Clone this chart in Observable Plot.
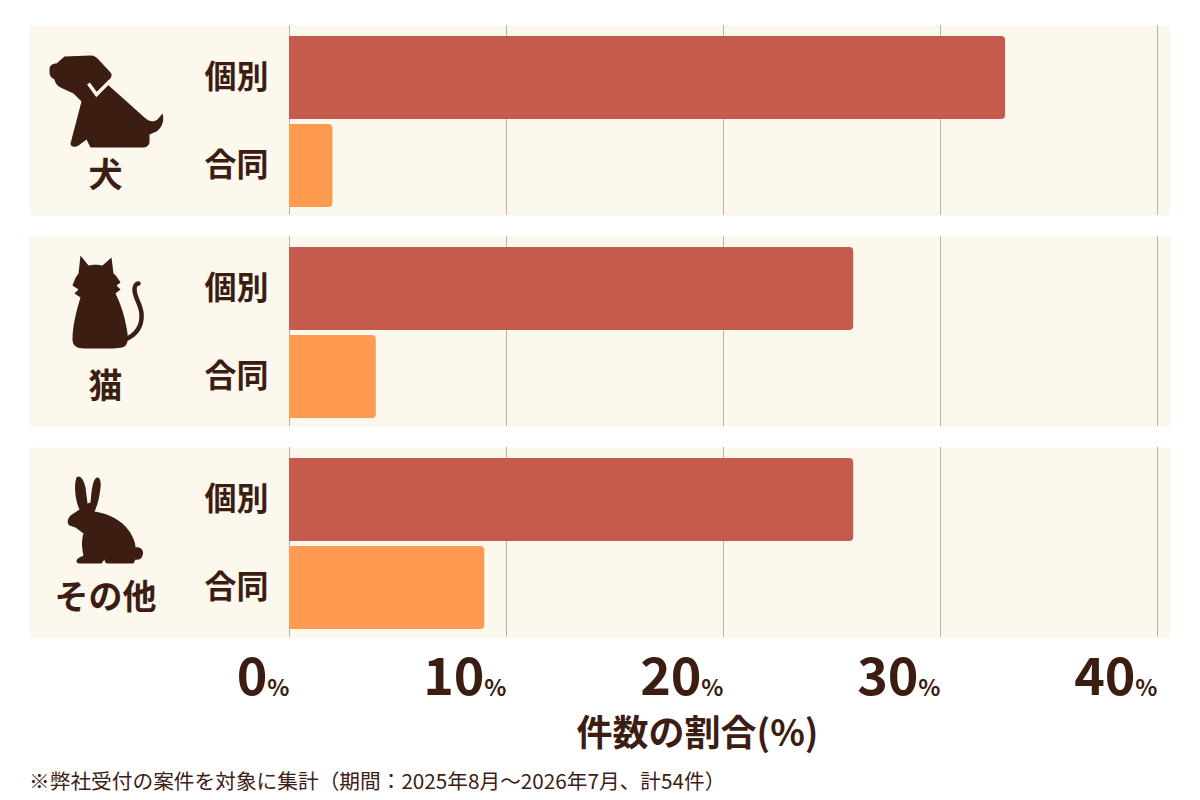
<!DOCTYPE html>
<html>
<head>
<meta charset="utf-8">
<script src="https://cdn.jsdelivr.net/npm/d3@7"></script>
<script src="https://cdn.jsdelivr.net/npm/@observablehq/plot@0.6"></script>
<style>
  html, body { margin: 0; padding: 0; background: #ffffff; }
  #caption {
    font-family: "Noto Sans CJK JP", "Noto Sans", sans-serif;
    font-size: 20.7px; color: #3d2014;
    height: 40px; line-height: 40px; padding-left: 29px;
    white-space: nowrap;
  }
</style>
</head>
<body>
<div id="chart"></div>
<div id="caption"></div>
<script>
// ---- data ----
const groups = ["犬", "猫", "その他"];
const types = ["個別", "合同"];
const dogValues = [33, 2];
const catValues = [26, 4];
const otherValues = [26, 9];
const xTicks = [0, 10, 20, 30, 40];
const xLabel = "件数の割合(%)";
const captionText = "※弊社受付の案件を対象に集計（期間：2025年8月～2026年7月、計54件）";

const brown = "#3b1d12";
const panelFill = "#fcf8ee";
const typeColors = ["#c55b4c", "#fe9b50"];

const valuesByGroup = [dogValues, catValues, otherValues];
const table = [];
groups.forEach((g, i) => types.forEach((t, j) => table.push({group: g, type: t, value: valuesByGroup[i][j]})));

// ---- icons (silhouettes) ----
const dogSvg = `<g transform="translate(8,20)"><path fill="${brown}" d="M1,14 C1,10 4,8 8,8 L16,1 L42,0 C46,0 48,2 50,4 L62,17 C64,19 63,22 61,24 L58,28 L96,62 C100,66 105,67 109,64 L114,58 C116,64 114,72 108,76 L101,79 L101,86 C101,90 98,92 94,92 L42,92 L38,84 L30,90 C27,92 22,92 22,88 L33,46 L25,38 L12,32 C8,30 6,26 6,24 L3,22 C1,20 1,18 1,14 Z"/><polyline points="40,28 48,39 62,25" fill="none" stroke="${panelFill}" stroke-width="3.5"/></g>`;
const catSvg = `<g transform="translate(30,9)"><path fill="${brown}" d="M10,0 L18,10 C22,9 28,9 32,10 L41,2 L43,18 C46,20 48,24 50,27 L46,30 L50,34 L45,38 C50,48 54,60 56,72 C58,82 58,88 54,91 C50,93 42,93 30,93 L14,93 C6,93 2,90 2,84 C2,70 6,55 10,42 L4,38 L8,34 L2,30 C4,24 6,20 8,18 Z"/><path fill="none" stroke="${brown}" stroke-width="4.5" stroke-linecap="round" d="M54,84 C66,80 72,70 71,58 C70,48 64,42 64,34 C64,30 66,28 68,28"/></g>`;
const rabbitSvg = `<g transform="translate(27,18)"><path fill="${brown}" d="M9,2 C12,-1 16,3 18,12 L20,28 L23,27 C24,16 25,6 28,3 C31,0 34,4 33,12 C32,22 30,30 27,36 C40,38 54,44 62,56 C66,62 68,68 68,72 C73,71 77,75 75,80 C74,84 70,85 68,84 L66,88 L40,88 C38,88 37,86 37,84 L34,88 L12,88 C8,88 8,84 12,82 L16,80 C14,72 14,64 16,58 L8,52 L2,50 C-1,48 0,43 3,40 L12,34 C8,26 6,10 9,2 Z"/></g>`;
const wrap = s => "data:image/svg+xml;utf8," + encodeURIComponent(`<svg xmlns="http://www.w3.org/2000/svg" width="130" height="130" viewBox="0 0 130 130">${s}</svg>`);
const iconSrc = {"犬": wrap(dogSvg), "猫": wrap(catSvg), "その他": wrap(rabbitSvg)};

const font = '"Noto Sans CJK JP", "Noto Sans", sans-serif';

const chart = Plot.plot({
  width: 1200,
  height: 760,
  marginLeft: 289,
  marginRight: 43,
  marginTop: 25,
  marginBottom: 123,
  style: {fontFamily: font, color: brown, background: "#ffffff", overflow: "visible"},
  facet: {marginTop: 0, marginBottom: 0, marginLeft: 0, marginRight: 0},
  x: {domain: [0, 40]},
  y: {domain: types, paddingInner: 0.057, paddingOuter: 0.1, align: 0.6},
  fy: {domain: groups, paddingInner: 0.1, paddingOuter: 0, axis: null},
  color: {domain: types, range: typeColors},
  marks: [
    Plot.frame({fill: panelFill, stroke: null, insetLeft: -260, insetRight: -13}),
    Plot.ruleX(xTicks, {stroke: "#b8b2a8", strokeWidth: 1}),
    Plot.barX(table, {fy: "group", y: "type", x: "value", fill: "type", rx2y1: 4, rx2y2: 4}),
    Plot.axisY({tickSize: 0, tickPadding: 21, fontSize: 32, fontWeight: 700, label: null}),
    Plot.axisX({ticks: xTicks, tickFormat: d => String(d), tickSize: 0, tickPadding: 21, fontSize: 52, fontWeight: 700, textAnchor: "end", dx: -22, label: null}),
    Plot.axisX({ticks: xTicks, tickFormat: () => "%", tickSize: 0, tickPadding: 42, fontSize: 23, fontWeight: 700, textAnchor: "end", dx: 0, label: null}),
    Plot.image(groups, {fy: d => d, src: d => iconSrc[d], width: 130, height: 130, frameAnchor: "top-left", dx: -184, dy: 75}),
    Plot.text(groups, {fy: d => d, text: d => d, frameAnchor: "top-left", textAnchor: "middle", lineAnchor: "middle", dx: -184, dy: 151, fontSize: 34, fontWeight: 700, fill: brown}),
    Plot.text([xLabel], {text: d => d, facet: "super", frameAnchor: "bottom", textAnchor: "middle", lineAnchor: "middle", dx: -26, dy: 97, fontSize: 36, fontWeight: 700, fill: brown})
  ]
});
document.getElementById("chart").append(chart);
document.getElementById("caption").textContent = captionText;
</script>
</body>
</html>
